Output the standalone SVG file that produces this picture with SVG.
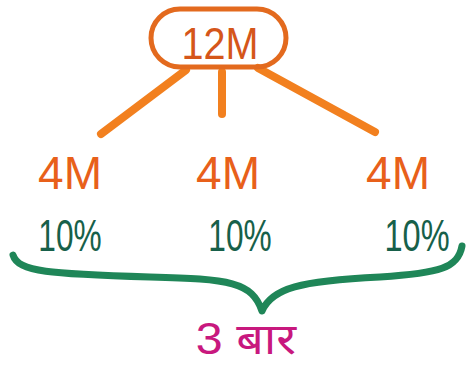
<svg xmlns="http://www.w3.org/2000/svg" width="472" height="365" viewBox="0 0 472 365">
<style>
.conn{stroke:#f2801f;stroke-width:8;stroke-linecap:round;fill:none}
.m{font-family:"Liberation Sans","DejaVu Sans",sans-serif;fill:#e8601a;font-size:46px;text-anchor:middle}
.p{font-family:"Liberation Sans","DejaVu Sans",sans-serif;fill:#17604a;font-size:44px;text-anchor:middle}
</style>
<rect width="472" height="365" fill="#ffffff"/>
<g id="connectors">
<line class="conn" x1="186" y1="70" x2="101" y2="134"/>
<line class="conn" x1="222" y1="72" x2="222" y2="114"/>
<line class="conn" x1="258" y1="68" x2="375" y2="132"/>
</g>
<g id="root">
<rect x="151" y="9" width="135" height="58" rx="29" ry="29" fill="none" stroke="#e36a1e" stroke-width="5"/>
<text transform="translate(220,59) scale(0.9,1)" font-family="Liberation Sans, sans-serif" font-size="44" fill="#d5561a" text-anchor="middle">12M</text>
</g>
<g id="left"><text class="m" x="70" y="189">4M</text><text class="p" transform="translate(70,251) scale(0.72,1)">10%</text></g>
<g id="middle"><text class="m" x="228" y="189">4M</text><text class="p" transform="translate(240,251) scale(0.72,1)">10%</text></g>
<g id="right"><text class="m" x="398" y="189">4M</text><text class="p" transform="translate(417,251) scale(0.74,1)">10%</text></g>
<g id="brace">
<path d="M13,255 C18,272 50,274 150,277 C230,279 252,282 262,311 C272,288 300,281 380,277 C440,273 458,268 462,246" fill="none" stroke="#1f8658" stroke-width="7" stroke-linecap="round" stroke-linejoin="round"/>
</g>
<g id="label">
<text transform="translate(246,354) scale(1.1,1)" font-family="Liberation Sans, 'Noto Sans Devanagari', 'Noto Sans', sans-serif" font-size="44" fill="#c8187e" text-anchor="middle">3 बार</text>
</g>
</svg>
